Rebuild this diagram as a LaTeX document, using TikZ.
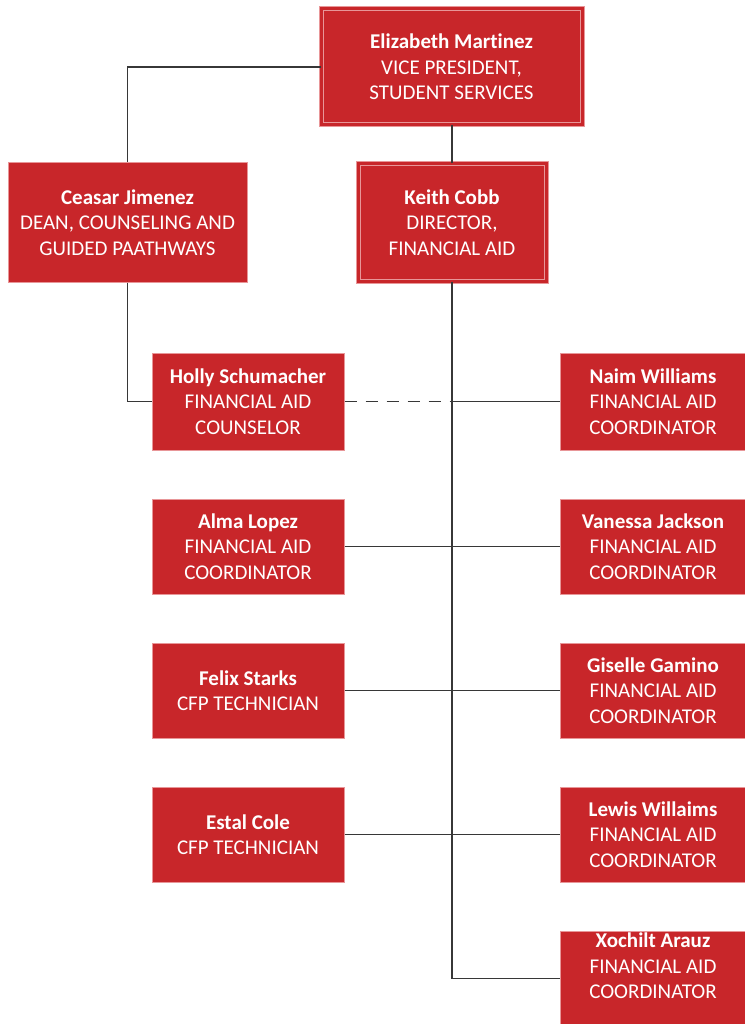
\documentclass[tikz,border=0pt]{standalone}
\usepackage{fontspec}
\setmainfont[Ligatures=NoCommon]{Carlito}
\definecolor{boxred}{RGB}{200,38,42}
\definecolor{boxpink}{RGB}{232,150,152}
\definecolor{linegray}{RGB}{55,55,55}
\begin{document}
\begin{tikzpicture}[x=1pt,y=-1pt,
  box/.style={fill=boxred,draw=boxpink,line width=1pt,text=white,align=center,
    inner sep=0pt,font=\fontsize{21}{25.5}\selectfont},
  dbox/.style={box,double=boxred,double distance=3pt,line width=1pt},
  conn/.style={draw=linegray,line width=1.6pt},
  dconn/.style={conn,dash pattern=on 12pt off 9pt}]
\useasboundingbox (0,0) rectangle (744,1024);
\fill[white] (0,0) rectangle (744,1024);

\node[dbox,minimum width=261pt,minimum height=116pt] (eliz) at (451.5,67)
  {\textbf{Elizabeth Martinez}\\VICE PRESIDENT,\\STUDENT SERVICES};
\node[box,minimum width=239pt,minimum height=119pt] (ceasar) at (127.5,222.5)
  {\textbf{Ceasar Jimenez}\\DEAN, COUNSELING AND\\GUIDED PAATHWAYS};
\node[dbox,minimum width=188pt,minimum height=117pt] (keith) at (452,222.5)
  {\textbf{Keith Cobb}\\DIRECTOR,\\FINANCIAL AID};

\node[box,minimum width=192pt,minimum height=97pt] (holly) at (248,401.5)
  {\textbf{Holly Schumacher}\\FINANCIAL AID\\COUNSELOR};
\node[box,minimum width=186pt,minimum height=97pt] (naim) at (653,401.5)
  {\textbf{Naim Williams}\\FINANCIAL AID\\COORDINATOR};
\node[box,minimum width=192pt,minimum height=95pt] (alma) at (248,546.5)
  {\textbf{Alma Lopez}\\FINANCIAL AID\\COORDINATOR};
\node[box,minimum width=186pt,minimum height=95pt] (vanessa) at (653,546.5)
  {\textbf{Vanessa Jackson}\\FINANCIAL AID\\COORDINATOR};
\node[box,minimum width=192pt,minimum height=95pt] (felix) at (248,690.5)
  {\textbf{Felix Starks}\\CFP TECHNICIAN};
\node[box,minimum width=186pt,minimum height=95pt] (giselle) at (653,690.5)
  {\textbf{Giselle Gamino}\\FINANCIAL AID\\COORDINATOR};
\node[box,minimum width=192pt,minimum height=95pt] (estal) at (248,834.5)
  {\textbf{Estal Cole}\\CFP TECHNICIAN};
\node[box,minimum width=186pt,minimum height=95pt] (lewis) at (653,834.5)
  {\textbf{Lewis Willaims}\\FINANCIAL AID\\COORDINATOR};
\node[box,minimum width=186pt,minimum height=95pt,
  label={[box,fill=none,draw=none,yshift=12.5pt]center:\textbf{Xochilt Arauz}\\FINANCIAL AID\\COORDINATOR}]
  (xochilt) at (653,978.5) {};

\draw[conn] (eliz.west) -| (ceasar.north);
\draw[conn] (keith.north) -- (keith.north |- eliz.south);
\draw[conn] (ceasar.south) |- (holly.west);
\draw[conn] (keith.south) |- (xochilt.west);
\draw[dconn] (holly.east) -- (holly.east -| keith.south);
\draw[conn] (naim.west -| keith.south) -- (naim.west);
\draw[conn] (alma.east) -- (vanessa.west);
\draw[conn] (felix.east) -- (giselle.west);
\draw[conn] (estal.east) -- (lewis.west);
\end{tikzpicture}
\end{document}
